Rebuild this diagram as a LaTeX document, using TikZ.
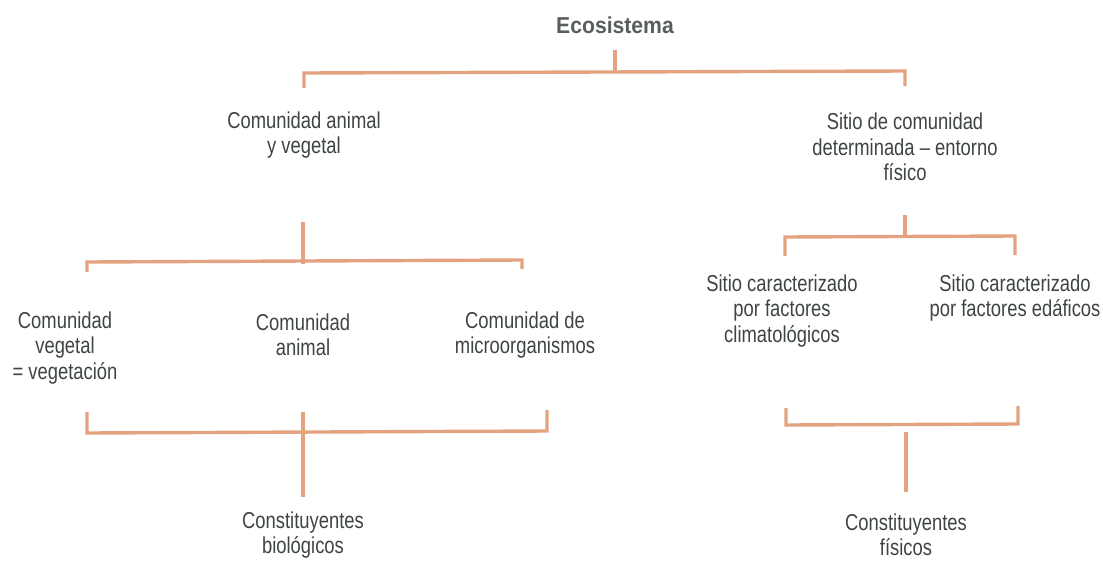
\documentclass[tikz,border=0pt]{standalone}
\usepackage{fontspec}
\setmainfont{Liberation Sans}
\newfontfamily\lblfont[FakeStretch=0.8,Ligatures=TeX]{Liberation Sans}
\newfontfamily\ttlfont[FakeStretch=0.92,Ligatures=TeX]{Liberation Sans}
\definecolor{brk}{RGB}{228,163,128}
\definecolor{txt}{RGB}{62,68,68}
\definecolor{ttxt}{RGB}{88,94,94}
\begin{document}
\begin{tikzpicture}[x=1pt,y=-1pt,
  br/.style={draw=brk,line width=3.4pt,line cap=butt,line join=miter},
  lbl/.style={text=txt,align=center,inner sep=0pt,font=\lblfont\fontsize{23}{25.5}\selectfont},
  ttl/.style={text=ttxt,inner sep=0pt,font=\ttlfont\bfseries\fontsize{23}{26}\selectfont}]
\useasboundingbox (0,0) rectangle (1103,560);

% labels
\node[ttl] (eco) at (615,25) {Ecosistema};
\node[lbl] (av) at (304,135) {Comunidad animal\\y vegetal};
\node[lbl] (sit) at (905,147) {Sitio de comunidad\\determinada – entorno\\físico};
\node[lbl] (cveg) at (65,348) {Comunidad\\vegetal\\= vegetación};
\node[lbl] (cani) at (303,335) {Comunidad\\animal};
\node[lbl] (cmic) at (525,335) {Comunidad de\\microorganismos};
\node[lbl] (scli) at (782,311) {Sitio caracterizado\\por factores\\climatológicos};
\node[lbl] (sedf) at (1015,298) {Sitio caracterizado\\por factores edáficos};
\node[lbl] (cbio) at (303,535) {Constituyentes\\biológicos};
\node[lbl] (cfis) at (906,535) {Constituyentes\\físicos};

% top bracket
\coordinate (a0) at (615,50);
\coordinate (a1) at (615,72);
\coordinate (al) at (304,73);
\coordinate (ar) at (905,71);
\coordinate (al2) at (304,88);
\coordinate (ar2) at (905,86);
\draw[br] (a0) -- (a1);
\draw[br] (al2) -- (al) -- (ar) -- (ar2);

% bracket under "Comunidad animal y vegetal"
\coordinate (b0) at (303,222);
\coordinate (b1) at (303,264);
\coordinate (bl) at (87,262);
\coordinate (br) at (522,260);
\coordinate (bl2) at (87,272);
\coordinate (br2) at (522,269);
\draw[br] (b0) -- (b1);
\draw[br] (bl2) -- (bl) -- (br) -- (br2);

% bracket joining the three communities
\coordinate (c1) at (87,412);
\coordinate (c2) at (87,433);
\coordinate (c3) at (547,431);
\coordinate (c4) at (547,410);
\coordinate (c5) at (303,412);
\coordinate (c6) at (303,497);
\draw[br] (c1) -- (c2) -- (c3) -- (c4);
\draw[br] (c5) -- (c6);

% bracket under "Sitio de comunidad"
\coordinate (d0) at (905,215);
\coordinate (d1) at (905,237);
\coordinate (dl) at (785,237);
\coordinate (dr) at (1015,236);
\coordinate (dl2) at (785,256);
\coordinate (dr2) at (1015,255);
\draw[br] (d0) -- (d1);
\draw[br] (dl2) -- (dl) -- (dr) -- (dr2);

% bracket joining the two site types
\coordinate (e1) at (786,408);
\coordinate (e2) at (786,425);
\coordinate (e3) at (1018,424);
\coordinate (e4) at (1018,406);
\coordinate (e5) at (906,432);
\coordinate (e6) at (906,492);
\draw[br] (e1) -- (e2) -- (e3) -- (e4);
\draw[br] (e5) -- (e6);
\end{tikzpicture}
\end{document}
